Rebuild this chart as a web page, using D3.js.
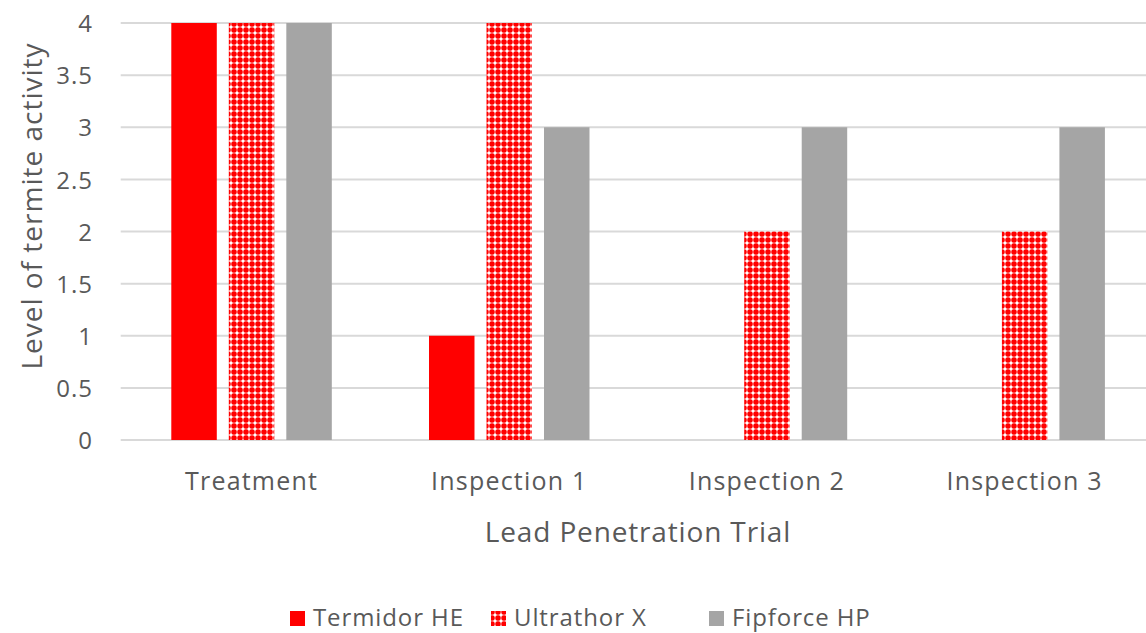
<!DOCTYPE html>
<html><head><meta charset="utf-8">
<script src="https://cdn.jsdelivr.net/npm/d3@7"></script>
<style>body{margin:0;background:#fff}svg{display:block}text{font-family:"Open Sans","Noto Sans",sans-serif;fill:#595959}</style>
</head><body><svg id="c" width="1146" height="633"></svg>
<script>
const categories = ["Treatment","Inspection 1","Inspection 2","Inspection 3"];
const seriesNames = ["Termidor HE","Ultrathor X","Fipforce HP"];
const termidor = [4,1,0,0];
const ultrathor = [4,4,2,2];
const fipforce = [4,3,3,3];
const yTicks = [0,0.5,1,1.5,2,2.5,3,3.5,4];

const svg = d3.select("#c");
const defs = svg.append("defs");
const pat = defs.append("pattern").attr("id","conf").attr("patternUnits","userSpaceOnUse")
  .attr("width",6).attr("height",6);
pat.append("rect").attr("width",6).attr("height",6).attr("fill","#ff0000");
pat.append("rect").attr("x",2).attr("y",0.5).attr("width",2).attr("height",5).attr("fill","#ff9a9a");
pat.append("rect").attr("x",0.5).attr("y",2).attr("width",5).attr("height",2).attr("fill","#ff9a9a");
pat.append("rect").attr("x",2).attr("y",2).attr("width",2).attr("height",2).attr("fill","#ffffff");

const fills = ["#ff0000","url(#conf)","#a5a5a5"];
const data = [termidor, ultrathor, fipforce];

const pLeft = 122.7, pRight = 1153.5, pTop = 23, pBottom = 440;
const x = d3.scaleBand().domain(categories).range([pLeft,pRight]).paddingInner(0).paddingOuter(0);
const y = d3.scaleLinear().domain([0,4]).range([pBottom,pTop]);
const groupW = 160.5;
const inner = d3.scaleBand().domain(seriesNames).range([0,groupW]).paddingInner(0.209).paddingOuter(0);
const groupOff = (x.bandwidth()-groupW)/2;

// gridlines
svg.append("g").selectAll("line").data(yTicks).join("line")
  .attr("x1",pLeft-2).attr("x2",1146).attr("y1",d=>y(d)).attr("y2",d=>y(d))
  .attr("stroke","#d9d9d9").attr("stroke-width",2);

// bars
seriesNames.forEach((s,i)=>{
  svg.append("g").selectAll("rect").data(categories).join("rect")
    .attr("x",c=>x(c)+groupOff+inner(s))
    .attr("width",inner.bandwidth())
    .attr("y",(c,j)=>y(data[i][j]))
    .attr("height",(c,j)=>y(0)-y(data[i][j]))
    .attr("fill",fills[i]);
});

const ff = '"Open Sans","Noto Sans",sans-serif';
// y axis labels
const ya = svg.append("g").attr("transform",`translate(93,0)`)
  .call(d3.axisLeft(y).tickValues(yTicks).tickSize(0).tickPadding(0).tickFormat(d3.format("")));
ya.select(".domain").remove();
ya.selectAll("text").attr("font-size",24).attr("fill","#595959").attr("dy","0.36em")
  .attr("letter-spacing",1).style("font-family",ff);

// x axis labels
const xa = svg.append("g").attr("transform",`translate(0,${pBottom})`)
  .call(d3.axisBottom(x).tickSize(0).tickPadding(0));
xa.select(".domain").remove();
xa.selectAll("text").attr("font-size",25).attr("fill","#595959").attr("y",50).attr("dy",0)
  .attr("letter-spacing",1.2).style("font-family",ff);

// axis titles
svg.append("text").attr("x",638).attr("y",542).attr("text-anchor","middle").attr("font-size",28)
  .attr("letter-spacing",0.85).text("Lead Penetration Trial");
svg.append("text").attr("transform","translate(42,206) rotate(-90)").attr("text-anchor","middle").attr("font-size",28)
  .attr("letter-spacing",1).text("Level of termite activity");

// legend
const legX = [290,491,709];
const lg = svg.append("g");
seriesNames.forEach((s,i)=>{
  lg.append("rect").attr("x",legX[i]).attr("y",611).attr("width",15).attr("height",15).attr("fill",fills[i]);
  lg.append("text").attr("x",legX[i]+23).attr("y",626).attr("font-size",24).attr("letter-spacing",0.9).text(s);
});
</script></body></html>
